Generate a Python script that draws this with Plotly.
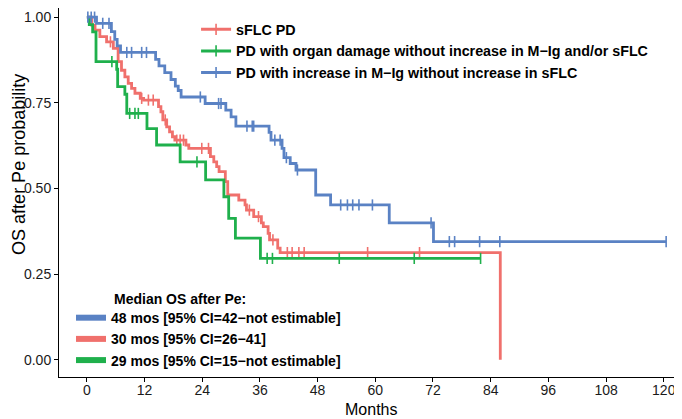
import numpy as np
import plotly.graph_objects as go

# Kaplan-Meier step points (event times in months, survival after the event)
red_t = [0, 1.0, 1.7, 2.7, 4.1, 5.5, 6.5, 7.2, 7.9, 8.6, 9.3, 10.0, 11.1, 11.8,
         14.9, 15.4, 15.8, 16.6, 17.2, 17.8, 18.3, 20.6, 21.2, 25.7, 26.4, 27.0,
         27.5, 28.8, 29.3, 31.6, 32.9, 33.2, 34.7, 36.3, 36.7, 37.7, 38.0, 39.7,
         40.2, 86.0]
red_s = [1.0, 0.977, 0.962, 0.943, 0.928, 0.909, 0.870, 0.845, 0.826, 0.807, 0.792,
         0.778, 0.763, 0.758, 0.739, 0.724, 0.700, 0.680, 0.665, 0.651, 0.641, 0.627,
         0.617, 0.593, 0.578, 0.564, 0.549, 0.520, 0.481, 0.466, 0.452, 0.437, 0.418,
         0.400, 0.389, 0.369, 0.350, 0.326, 0.313, 0.0]
red_cens = [4.9, 11.4, 12.8, 13.8, 16.3, 18.7, 19.4, 20.1, 23.9, 25.3, 33.8, 35.7,
            38.7, 41.7, 42.7, 44.1, 45.2, 58.4, 69.2]

green_t = [0, 0.5, 1.2, 1.9, 6.2, 6.4, 7.9, 8.3, 12.5, 14.5, 19.4, 24.7, 28.5,
           29.5, 30.9, 36.1]
green_s = [1.0, 0.978, 0.957, 0.870, 0.848, 0.797, 0.775, 0.719, 0.675, 0.627,
           0.578, 0.525, 0.476, 0.413, 0.355, 0.296]
green_cens = [5.2, 8.9, 10.0, 10.7, 22.9, 37.5, 38.6, 52.5, 68.1, 81.9]

blue_t = [0, 2.0, 5.1, 5.8, 6.3, 7.0, 14.3, 15.0, 16.2, 17.5, 18.4, 19.0, 19.6,
          24.6, 28.9, 30.0, 31.0, 37.9, 38.3, 40.6, 41.0, 42.3, 43.5, 47.6, 50.7,
          62.9, 72.1]
blue_s = [1.0, 0.982, 0.958, 0.935, 0.916, 0.897, 0.877, 0.858, 0.838, 0.818,
          0.799, 0.786, 0.767, 0.748, 0.729, 0.709, 0.682, 0.664, 0.641, 0.617,
          0.590, 0.573, 0.554, 0.481, 0.452, 0.400, 0.345]
blue_cens = [0.2, 0.9, 1.6, 3.3, 4.6, 8.3, 9.3, 11.4, 12.4, 23.6, 27.4, 27.9, 33.3,
             34.4, 34.7, 39.1, 40.2, 41.5, 43.8, 52.8, 54.2, 55.3, 56.6, 59.4, 71.6,
             75.4, 76.5, 81.7, 85.9, 120.5]

group_names = ["sFLC PD",
               "PD with organ damage without increase in M−Ig and/or sFLC",
               "PD with increase in M−Ig without increase in sFLC"]
median_labels = ["48 mos [95% CI=42−not estimable]",
                 "30 mos [95% CI=26−41]",
                 "29 mos [95% CI=15−not estimable]"]

RED, GREEN, BLUE = "#F0706C", "#1FB04C", "#5A82C4"
FONT = "Liberation Sans, Arial, sans-serif"


def km_at(times, surv, t):
    idx = np.searchsorted(np.asarray(times), np.asarray(t), side="right") - 1
    return np.asarray(surv)[idx]


fig = go.Figure()

groups = [(red_t, red_s, red_cens, RED),
          (green_t, green_s, green_cens, GREEN),
          (blue_t, blue_s, blue_cens, BLUE)]

for t, s, cens, col in groups:
    xs, ys = list(t), list(s)
    if cens[-1] > t[-1]:
        xs.append(cens[-1])
        ys.append(s[-1])
    fig.add_trace(go.Scatter(x=xs, y=ys, mode="lines", line=dict(color=col, width=2.8, shape="hv"),
                             showlegend=False, hoverinfo="skip"))
    fig.add_trace(go.Scatter(x=cens, y=km_at(t, s, cens), mode="markers",
                             marker=dict(symbol="line-ns", size=8, color=col,
                                         line=dict(color=col, width=1.6)),
                             showlegend=False, hoverinfo="skip"))

# top legend (strata)
for name, col in zip(group_names, [RED, GREEN, BLUE]):
    fig.add_trace(go.Scatter(x=[None], y=[None], mode="lines+markers", name=name,
                             line=dict(color=col, width=3),
                             marker=dict(symbol="line-ns", size=8, color=col,
                                         line=dict(color=col, width=1.6)),
                             legend="legend"))

# bottom legend (medians)
for lab, col in zip(median_labels, [BLUE, RED, GREEN]):
    fig.add_trace(go.Scatter(x=[None], y=[None], mode="lines", name=lab,
                             line=dict(color=col, width=6), legend="legend2"))

fig.add_annotation(text="<b>Median OS after Pe:</b>", xref="paper", yref="paper",
                   x=0.085, y=0.2114, xanchor="left", yanchor="middle", showarrow=False,
                   font=dict(family=FONT, size=14, color="black"))
fig.add_annotation(text="OS after Pe probability", xref="paper", yref="paper",
                   x=-0.0645, y=0.577, xanchor="center", yanchor="middle", textangle=-90,
                   showarrow=False, font=dict(family=FONT, size=18, color="black"))
fig.add_annotation(text="Months", xref="paper", yref="paper",
                   x=0.5008, y=-0.0894, xanchor="center", yanchor="middle",
                   showarrow=False, font=dict(family=FONT, size=16, color="black"))

# the page body adds an 8px offset, so margins are shifted to compensate
fig.update_layout(
    width=682, height=419,
    margin=dict(l=51, r=8, t=0, b=50),
    plot_bgcolor="white", paper_bgcolor="white",
    font=dict(family=FONT, size=14, color="black"),
    legend=dict(x=0.22, y=0.985, xanchor="left", yanchor="top", bgcolor="rgba(0,0,0,0)",
                font=dict(family=FONT, size=14.3, color="black", weight="bold"),
                tracegroupgap=0),
    legend2=dict(x=0.0193, y=0.203, xanchor="left", yanchor="top", bgcolor="rgba(0,0,0,0)",
                 font=dict(family=FONT, size=14, color="black", weight="bold")),
)
fig.update_xaxes(range=[-5.8, 123.8], tickvals=list(range(0, 121, 12)), automargin=False,
                 showline=True, linecolor="black", linewidth=1, ticks="outside",
                 ticklen=4, tickcolor="black", showgrid=False, zeroline=False,
                 ticklabelstandoff=-4,
                 tickfont=dict(size=14, color="#1a1a1a"))
fig.update_yaxes(range=[-0.05, 1.0267], tickvals=[0, 0.25, 0.5, 0.75, 1.0], tickformat=".2f",
                 automargin=False,
                 showline=True, linecolor="black", linewidth=1, ticks="outside",
                 ticklen=4, tickcolor="black", showgrid=False, zeroline=False,
                 tickfont=dict(size=14, color="#1a1a1a"))

fig.write_html("out.html")
